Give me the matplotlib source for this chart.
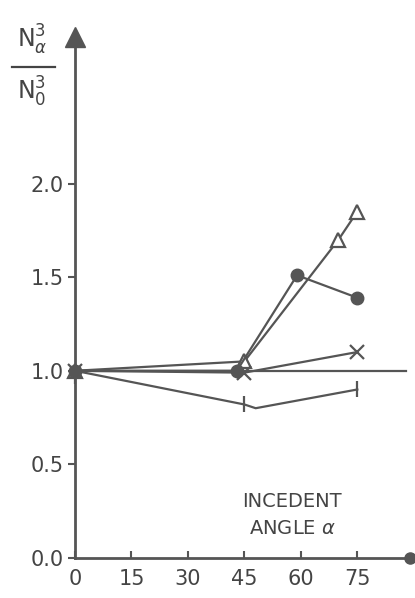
import matplotlib
matplotlib.use("Agg")
import matplotlib.pyplot as plt

# data
tri_x = [0, 45, 70, 75]
tri_y = [1.0, 1.05, 1.70, 1.85]
dot_x = [0, 43, 59, 75]
dot_y = [1.0, 1.0, 1.51, 1.39]
crs_x = [0, 45, 75]
crs_y = [1.0, 0.99, 1.10]
tck_x = [0, 45, 48, 75]
tck_y = [1.0, 0.82, 0.80, 0.90]
tck_mark_x = [0, 45, 75]
tck_mark_y = [0.97, 0.82, 0.90]
ref_x = [0, 88]
ref_y = [1.0, 1.0]
xticks = [0, 15, 30, 45, 60, 75]
yticks = [0.0, 0.5, 1.0, 1.5, 2.0]
ytick_labels = ["0.0", "0.5", "1.0", "1.5", "2.0"]

C = "#555555"
T = "#444444"
plt.rcParams['font.family'] = ['DejaVu Sans']

fig = plt.figure(figsize=(4.15, 5.98), dpi=100)
ax = fig.add_axes([75/415, 1-558/598, (410-75)/415, (558-30)/598])
ax.set_xlim(0, 89)
ax.set_ylim(0, 2.82)

lw = 1.6
ax.plot(ref_x, ref_y, color=C, lw=lw, clip_on=False)
ax.plot(tri_x, tri_y, color=C, lw=lw, marker='^', ms=10, mfc='white', mec=C, mew=1.6, clip_on=False)
ax.plot(dot_x, dot_y, color=C, lw=lw, marker='o', ms=9, mfc=C, mec=C, clip_on=False)
ax.plot(crs_x, crs_y, color=C, lw=lw, marker='x', ms=10, mew=1.6, clip_on=False)
ax.plot(tck_x, tck_y, color=C, lw=lw, clip_on=False)
ax.plot(tck_mark_x, tck_mark_y, ls='none', color=C, marker='|', ms=11, mew=1.6, clip_on=False)

for s in ['top', 'right']:
    ax.spines[s].set_visible(False)
for s in ['left', 'bottom']:
    ax.spines[s].set_color(C)
    ax.spines[s].set_linewidth(2.0)

ax.set_xticks(xticks)
ax.set_xticklabels([str(v) for v in xticks])
ax.set_yticks(yticks)
ax.set_yticklabels(ytick_labels)
ax.tick_params(axis='x', direction='in', length=5, width=1.5, colors=C, labelsize=15, pad=8)
ax.tick_params(axis='y', direction='out', length=5, width=1.5, colors=C, labelsize=15, pad=3)
for t in ax.get_xticklabels() + ax.get_yticklabels():
    t.set_color(T)

# arrowheads
ax.plot([0], [2.78], marker='^', ms=14, color=C, clip_on=False)
ax.plot([89], [0], marker='o', ms=8, color=C, clip_on=False)

# y label fraction
fig.text(32/415, 1-40/598, r'$\mathregular{N}_{\alpha}^{3}$', fontsize=17, color=T, ha='center', va='center')
fig.add_artist(plt.Line2D([12/415, 55/415], [1-67/598, 1-67/598], color=T, lw=1.6))
fig.text(32/415, 1-92/598, r'$\mathregular{N}_{0}^{3}$', fontsize=17, color=T, ha='center', va='center')

fig.text(292/415, 1-515/598, "INCEDENT\nANGLE $\\alpha$", fontsize=14, color=T,
         ha='center', va='center', linespacing=1.5)

fig.savefig("out.png", dpi=100, facecolor='white')
